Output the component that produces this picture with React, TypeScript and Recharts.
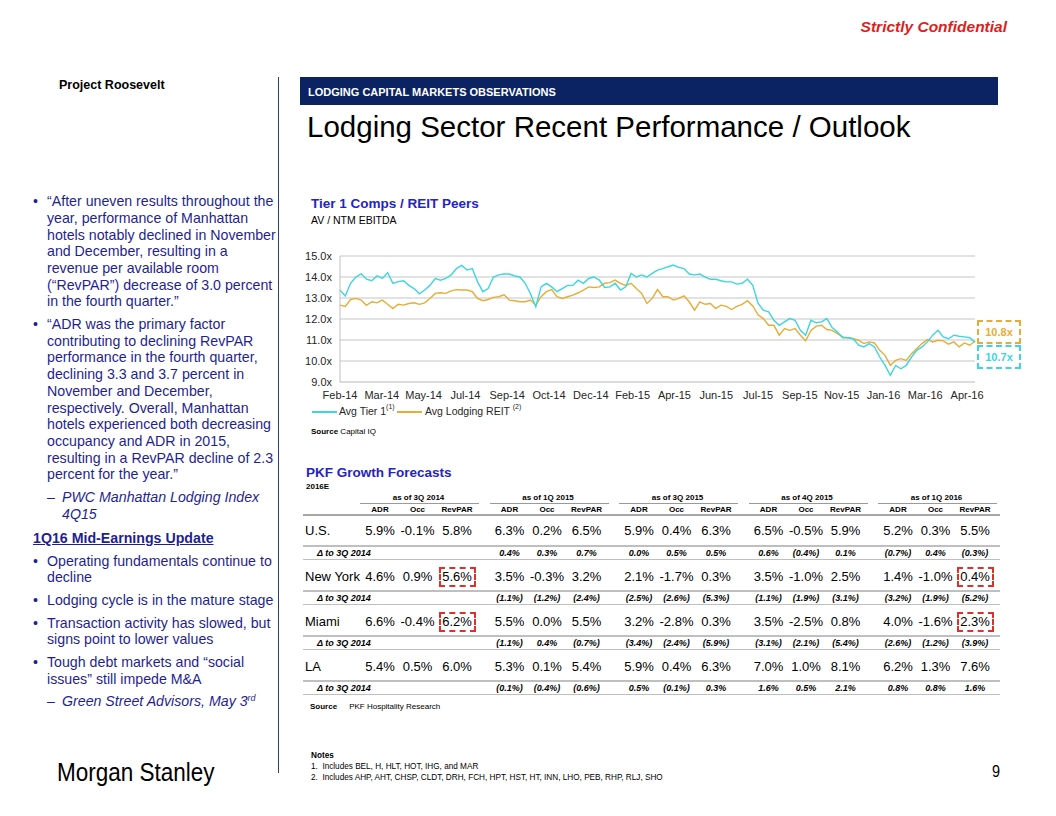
import React from 'react';
import { LineChart, Line, XAxis, YAxis, CartesianGrid } from 'recharts';

// ---------- Chart data ----------
const xLabels = ['Feb-14', 'Mar-14', 'May-14', 'Jul-14', 'Sep-14', 'Oct-14', 'Dec-14', 'Feb-15', 'Apr-15', 'Jun-15', 'Jul-15', 'Sep-15', 'Nov-15', 'Jan-16', 'Mar-16', 'Apr-16'];
const yTicks = [9, 10, 11, 12, 13, 14, 15];

const avgTier1 = [
  13.38, 13.1, 13.7, 14.0, 14.15, 13.9, 13.82, 14.05, 13.93, 14.2,
  13.7, 13.78, 13.82, 13.6, 13.45, 13.2, 13.38, 13.6, 13.93, 13.85,
  13.93, 14.1, 14.4, 14.55, 14.33, 14.4, 13.77, 13.3, 13.45, 14.0,
  14.1, 14.14, 14.14, 14.05, 14.0, 13.7, 13.2, 12.58, 13.53, 13.7,
  13.53, 13.3, 13.45, 13.6, 13.6, 13.85, 13.7, 13.93, 14.0, 13.85,
  13.5, 13.53, 13.7, 13.38, 13.53, 14.17, 14.0, 14.1, 14.0, 14.17,
  14.33, 14.4, 14.49, 14.57, 14.46, 14.4, 14.14, 14.1, 14.14, 14.0,
  13.89, 13.89, 13.82, 13.77, 13.77, 13.66, 13.7, 13.89, 13.6, 12.75,
  12.42, 12.34, 11.94, 11.7, 11.86, 12.02, 11.94, 11.46, 11.23, 11.94,
  11.82, 11.86, 12.02, 11.59, 11.38, 11.11, 11.11, 11.06, 10.75, 10.67,
  10.83, 10.67, 10.19, 9.79, 9.32, 9.79, 9.63, 9.79, 10.19, 10.51,
  10.67, 10.91, 11.23, 11.46, 11.15, 11.06, 11.23, 11.18, 11.15, 11.11,
  10.9,
];

const avgLodgingReit = [
  12.66, 12.6, 12.93, 12.98, 12.9, 12.65, 12.82, 12.77, 12.9, 12.7,
  12.5, 12.7, 12.66, 12.74, 12.77, 12.7, 12.77, 12.98, 13.22, 13.25,
  13.22, 13.34, 13.4, 13.38, 13.38, 13.3, 12.98, 12.87, 12.93, 13.03,
  13.06, 13.15, 12.9, 12.87, 12.82, 12.82, 12.9, 12.66, 13.06, 13.3,
  13.4, 13.06, 12.98, 13.06, 13.14, 13.25, 13.38, 13.53, 13.5, 13.53,
  13.7, 13.73, 13.85, 13.7, 13.6, 13.7, 13.45, 13.22, 12.74, 12.98,
  13.4, 13.06, 13.06, 12.9, 12.98, 13.1, 12.82, 12.42, 12.82, 12.7,
  12.74, 12.5, 12.66, 12.6, 12.45, 12.6, 12.7, 12.87, 12.62, 12.2,
  12.02, 11.7, 11.7, 11.23, 11.54, 11.46, 11.54, 11.23, 10.96, 11.46,
  11.66, 11.7, 11.5, 11.46, 11.3, 11.15, 11.11, 11.06, 10.99, 10.83,
  10.91, 10.86, 10.51, 10.27, 9.79, 10.03, 10.11, 10.03, 10.35, 10.59,
  10.83, 11.02, 10.91, 10.99, 10.96, 10.8, 10.91, 10.67, 10.86, 10.75,
  10.95,
];

const latestLabels = { reit: '10.8x', tier1: '10.7x' };

// ---------- Table data ----------
const groups = ['as of 3Q 2014', 'as of 1Q 2015', 'as of 3Q 2015', 'as of 4Q 2015', 'as of 1Q 2016'];
const metrics = ['ADR', 'Occ', 'RevPAR'];
const markets = ['U.S.', 'New York', 'Miami', 'LA'];
const forecastUS = [5.9, -0.1, 5.8, 6.3, 0.2, 6.5, 5.9, 0.4, 6.3, 6.5, -0.5, 5.9, 5.2, 0.3, 5.5];
const forecastNY = [4.6, 0.9, 5.6, 3.5, -0.3, 3.2, 2.1, -1.7, 0.3, 3.5, -1.0, 2.5, 1.4, -1.0, 0.4];
const forecastMiami = [6.6, -0.4, 6.2, 5.5, 0.0, 5.5, 3.2, -2.8, 0.3, 3.5, -2.5, 0.8, 4.0, -1.6, 2.3];
const forecastLA = [5.4, 0.5, 6.0, 5.3, 0.1, 5.4, 5.9, 0.4, 6.3, 7.0, 1.0, 8.1, 6.2, 1.3, 7.6];
const deltaUS = [0.4, 0.3, 0.7, 0.0, 0.5, 0.5, 0.6, -0.4, 0.1, -0.7, 0.4, -0.3];
const deltaNY = [-1.1, -1.2, -2.4, -2.5, -2.6, -5.3, -1.1, -1.9, -3.1, -3.2, -1.9, -5.2];
const deltaMiami = [-1.1, 0.4, -0.7, -3.4, -2.4, -5.9, -3.1, -2.1, -5.4, -2.6, -1.2, -3.9];
const deltaLA = [-0.1, -0.4, -0.6, 0.5, -0.1, 0.3, 1.6, 0.5, 2.1, 0.8, 0.8, 1.6];
const forecasts = [forecastUS, forecastNY, forecastMiami, forecastLA];
const deltas = [deltaUS, deltaNY, deltaMiami, deltaLA];
const highlighted = [
  { market: 1, group: 0, metric: 2 },
  { market: 2, group: 0, metric: 2 },
  { market: 1, group: 4, metric: 2 },
  { market: 2, group: 4, metric: 2 },
];

// ---------- Text ----------
const bullet1 = [
  '\u201CAfter uneven results throughout the',
  'year, performance of Manhattan',
  'hotels notably declined in November',
  'and December, resulting in a',
  'revenue per available room',
  '(\u201CRevPAR\u201D) decrease of 3.0 percent',
  'in the fourth quarter.\u201D',
];
const bullet2 = [
  '\u201CADR was the primary factor',
  'contributing to declining RevPAR',
  'performance in the fourth quarter,',
  'declining 3.3 and 3.7 percent in',
  'November and December,',
  'respectively. Overall, Manhattan',
  'hotels experienced both decreasing',
  'occupancy and ADR in 2015,',
  'resulting in a RevPAR decline of 2.3',
  'percent for the year.\u201D',
];
const update = [
  ['Operating fundamentals continue to', 'decline'],
  ['Lodging cycle is in the mature stage'],
  ['Transaction activity has slowed, but', 'signs point to lower values'],
  ['Tough debt markets and \u201Csocial', 'issues\u201D still impede M&A'],
];

const FONT = "'Liberation Sans', Arial, Helvetica, sans-serif";
const CYAN = '#3dd5e0';
const GOLD = '#e6ad36';
const TEXT_BLUE = '#1f1f92';
const HEAD_BLUE = '#2424c4';

const N = avgTier1.length;
const chartData = avgTier1.map((v, i) => ({ i, tier1: v, reit: avgLodgingReit[i] }));
const TICK_STEP = 7.9;
const xTicks = xLabels.map((_, k) => k * TICK_STEP);

const fmt = (v: number) => v.toFixed(1) + '%';
const fmtDelta = (v: number) => (v < 0 ? '(' + Math.abs(v).toFixed(1) + '%)' : v.toFixed(1) + '%');

const LINE_H = 16.7;

function Lines({ lines }: { lines: React.ReactNode[] }) {
  return (
    <>
      {lines.map((l, k) => (
        <div key={k} style={{ height: LINE_H, lineHeight: LINE_H + 'px', whiteSpace: 'nowrap' }}>{l}</div>
      ))}
    </>
  );
}

function Bullet({ lines, mt = 6 }: { lines: React.ReactNode[]; mt?: number }) {
  return (
    <div style={{ position: 'relative', paddingLeft: 14, marginTop: mt }}>
      <span style={{ position: 'absolute', left: 0, top: 0, lineHeight: LINE_H + 'px' }}>{'\u2022'}</span>
      <Lines lines={lines} />
    </div>
  );
}

function Dash({ lines, mt = 6 }: { lines: React.ReactNode[]; mt?: number }) {
  return (
    <div style={{ position: 'relative', paddingLeft: 29, marginTop: mt, fontStyle: 'italic' }}>
      <span style={{ position: 'absolute', left: 14, top: 0, lineHeight: LINE_H + 'px', fontStyle: 'normal' }}>{'\u2013'}</span>
      <Lines lines={lines} />
    </div>
  );
}

// table geometry
const ADR0 = 380;
const GROUP_W = 129.5;
const METRIC_OFF = [0, 37.5, 77];
const colX = (g: number, m: number) => ADR0 + g * GROUP_W + METRIC_OFF[m];
const ROW_Y = [531, 577, 622, 667];
const DELTA_Y = [553, 598, 643, 688];

function Centered({ x, y, children, style }: { x: number; y: number; children: React.ReactNode; style?: React.CSSProperties }) {
  return (
    <div style={{ position: 'absolute', left: x - 40, top: y - 8, width: 80, height: 16, lineHeight: '16px', textAlign: 'center', whiteSpace: 'nowrap', ...style }}>
      {children}
    </div>
  );
}

function HLine({ x1, x2, y, w = 1, c = '#bfbfbf' }: { x1: number; x2: number; y: number; w?: number; c?: string }) {
  return <div style={{ position: 'absolute', left: x1, top: y - w / 2, width: x2 - x1, height: w, background: c }} />;
}

export default function App() {
  return (
    <div style={{ position: 'absolute', left: 0, top: 0, width: 1056, height: 816, background: '#fff', fontFamily: FONT, color: '#000', overflow: 'hidden' }}>
      {/* Header */}
      <div style={{ position: 'absolute', right: 49, top: 17, fontSize: 15.5, fontWeight: 700, fontStyle: 'italic', color: '#dc1f1c', lineHeight: '20px' }}>Strictly Confidential</div>
      <div style={{ position: 'absolute', left: 59, top: 77, fontSize: 12.5, fontWeight: 700, lineHeight: '16px' }}>Project Roosevelt</div>
      <div style={{ position: 'absolute', left: 278, top: 77, width: 1, height: 696, background: '#24407e' }} />
      <div style={{ position: 'absolute', left: 300, top: 77, width: 698, height: 28, background: '#0b2363' }}>
        <div style={{ position: 'absolute', left: 8, top: 8, color: '#fff', fontSize: 11, fontWeight: 700, lineHeight: '14px', whiteSpace: 'nowrap' }}>LODGING CAPITAL MARKETS OBSERVATIONS</div>
      </div>
      <div style={{ position: 'absolute', left: 307, top: 109, fontSize: 29.5, lineHeight: '36px', whiteSpace: 'nowrap' }}>Lodging Sector Recent Performance / Outlook</div>

      {/* Left column */}
      <div style={{ position: 'absolute', left: 33, top: 193.3 - 6, width: 245, fontSize: 14.2, color: TEXT_BLUE }}>
        <Bullet lines={bullet1} />
        <Bullet lines={bullet2} />
        <Dash lines={['PWC Manhattan Lodging Index', '4Q15']} />
        <div style={{ marginTop: 7.5, fontWeight: 700, textDecoration: 'underline', height: LINE_H, lineHeight: LINE_H + 'px', whiteSpace: 'nowrap' }}>1Q16 Mid-Earnings Update</div>
        {update.map((l, k) => (
          <Bullet key={k} lines={l} />
        ))}
        <Dash lines={[<span key="g">Green Street Advisors, May 3<sup style={{ fontSize: 9, verticalAlign: 'top', position: 'relative', top: -3 }}>rd</sup></span>]} />
      </div>

      {/* Chart titles */}
      <div style={{ position: 'absolute', left: 311, top: 195, fontSize: 13.5, fontWeight: 700, color: HEAD_BLUE, lineHeight: '18px', whiteSpace: 'nowrap' }}>Tier 1 Comps / REIT Peers</div>
      <div style={{ position: 'absolute', left: 311, top: 213, fontSize: 10.5, lineHeight: '14px', whiteSpace: 'nowrap' }}>AV / NTM EBITDA</div>

      {/* Line chart */}
      <div style={{ position: 'absolute', left: 290, top: 246, width: 700, height: 160 }}>
        <LineChart width={700} height={160} data={chartData} margin={{ top: 10, right: 15, left: 0, bottom: 0 }}>
          <CartesianGrid vertical={false} stroke="#d9d9d9" strokeWidth={1.5} />
          <XAxis
            dataKey="i"
            type="number"
            domain={[0, N - 1]}
            ticks={xTicks}
            interval={0}
            tickFormatter={(v: number) => xLabels[Math.round(v / TICK_STEP)]}
            axisLine={{ stroke: '#d9d9d9', strokeWidth: 1.5 }}
            tickLine={false}
            tickMargin={3}
            height={24}
            tick={{ fontSize: 11, fill: '#262626', fontFamily: FONT }}
          />
          <YAxis
            domain={[9, 15]}
            ticks={yTicks}
            interval={0}
            tickFormatter={(v: number) => v.toFixed(1) + 'x'}
            axisLine={{ stroke: '#bfbfbf', strokeWidth: 1 }}
            tickLine={false}
            width={50}
            tick={{ fontSize: 11, fill: '#262626', fontFamily: FONT }}
          />
          <Line type="linear" dataKey="reit" stroke={GOLD} strokeWidth={1.4} dot={false} isAnimationActive={false} />
          <Line type="linear" dataKey="tier1" stroke={CYAN} strokeWidth={1.4} dot={false} isAnimationActive={false} />
        </LineChart>
      </div>

      {/* Latest value call-outs */}
      <div style={{ position: 'absolute', left: 977, top: 320, width: 40, height: 20, border: `2px dashed ${GOLD}`, color: GOLD, fontSize: 11, fontWeight: 700, lineHeight: '20px', textAlign: 'center' }}>{latestLabels.reit}</div>
      <div style={{ position: 'absolute', left: 977, top: 345, width: 40, height: 20, border: `2px dashed ${CYAN}`, color: CYAN, fontSize: 11, fontWeight: 700, lineHeight: '20px', textAlign: 'center' }}>{latestLabels.tier1}</div>

      {/* Legend */}
      <div style={{ position: 'absolute', left: 312, top: 411, width: 25, height: 2, background: CYAN }} />
      <div style={{ position: 'absolute', left: 339, top: 404, fontSize: 10.5, lineHeight: '14px', whiteSpace: 'nowrap', color: '#262626' }}>
        Avg Tier 1<sup style={{ fontSize: 7, verticalAlign: 'top', position: 'relative', top: -4 }}>(1)</sup>
      </div>
      <div style={{ position: 'absolute', left: 397, top: 411, width: 25, height: 2, background: GOLD }} />
      <div style={{ position: 'absolute', left: 425, top: 404, fontSize: 10.5, lineHeight: '14px', whiteSpace: 'nowrap', color: '#262626' }}>
        Avg Lodging REIT <sup style={{ fontSize: 7, verticalAlign: 'top', position: 'relative', top: -4 }}>(2)</sup>
      </div>
      <div style={{ position: 'absolute', left: 311, top: 426, fontSize: 8, lineHeight: '11px', whiteSpace: 'nowrap' }}>
        <b>Source</b> Capital IQ
      </div>

      {/* Table */}
      <div style={{ position: 'absolute', left: 306, top: 464, fontSize: 13.5, fontWeight: 700, color: HEAD_BLUE, lineHeight: '18px', whiteSpace: 'nowrap' }}>PKF Growth Forecasts</div>
      <div style={{ position: 'absolute', left: 306, top: 481, fontSize: 8, fontWeight: 700, lineHeight: '11px' }}>2016E</div>

      {groups.map((g, gi) => (
        <React.Fragment key={g}>
          <Centered x={(colX(gi, 0) + colX(gi, 2)) / 2} y={498} style={{ fontSize: 8, fontWeight: 700 }}>{g}</Centered>
          <HLine x1={colX(gi, 0) - 20} x2={colX(gi, 2) + 22} y={503.5} w={1} c="#9a9a9a" />
          {metrics.map((m, mi) => (
            <Centered key={m} x={colX(gi, mi)} y={509.5} style={{ fontSize: 8, fontWeight: 700 }}>{m}</Centered>
          ))}
        </React.Fragment>
      ))}
      <HLine x1={303} x2={1000} y={515} w={2} c="#a6a6a6" />

      {markets.map((mk, ri) => (
        <React.Fragment key={mk}>
          <div style={{ position: 'absolute', left: 305, top: ROW_Y[ri] - 9, fontSize: 13, lineHeight: '18px', whiteSpace: 'nowrap' }}>{mk}</div>
          {forecasts[ri].map((v, k) => (
            <Centered key={k} x={colX(Math.floor(k / 3), k % 3)} y={ROW_Y[ri]} style={{ fontSize: 13, top: ROW_Y[ri] - 9, height: 18, lineHeight: '18px' }}>{fmt(v)}</Centered>
          ))}
          <HLine x1={303} x2={1000} y={DELTA_Y[ri] - 7} w={1.5} />
          <div style={{ position: 'absolute', left: 317, top: DELTA_Y[ri] - 6, fontSize: 9, fontWeight: 700, fontStyle: 'italic', lineHeight: '12px', whiteSpace: 'nowrap' }}>{'\u0394'}  to 3Q 2014</div>
          {deltas[ri].map((v, k) => (
            <Centered key={k} x={colX(Math.floor(k / 3) + 1, k % 3)} y={DELTA_Y[ri]} style={{ fontSize: 9, fontWeight: 700, fontStyle: 'italic' }}>{fmtDelta(v)}</Centered>
          ))}
          <HLine x1={303} x2={1000} y={DELTA_Y[ri] + 6.5} w={1.5} />
        </React.Fragment>
      ))}

      {highlighted.map((h, k) => (
        <div key={k} style={{ position: 'absolute', left: colX(h.group, h.metric) - 18, top: ROW_Y[h.market] - 10, width: 37, height: 20, border: '2px dashed #e0302c', boxSizing: 'border-box' }} />
      ))}

      <div style={{ position: 'absolute', left: 310, top: 701, fontSize: 8, lineHeight: '11px', whiteSpace: 'nowrap' }}>
        <b>Source</b>
        <span style={{ marginLeft: 12 }}>PKF Hospitality Research</span>
      </div>

      {/* Footer */}
      <div style={{ position: 'absolute', left: 57, top: 757, fontSize: 25, lineHeight: '30px', whiteSpace: 'nowrap', transform: 'scaleX(0.9)', transformOrigin: 'left center' }}>Morgan Stanley</div>
      <div style={{ position: 'absolute', left: 311, top: 750, fontSize: 8.2, lineHeight: '11px', whiteSpace: 'nowrap' }}>
        <div style={{ fontWeight: 700 }}>Notes</div>
        <div>1.&nbsp;&nbsp;Includes BEL, H, HLT, HOT, IHG, and MAR</div>
        <div>2.&nbsp;&nbsp;Includes AHP, AHT, CHSP, CLDT, DRH, FCH, HPT, HST, HT, INN, LHO, PEB, RHP, RLJ, SHO</div>
      </div>
      <div style={{ position: 'absolute', left: 992, top: 762, fontSize: 17, lineHeight: '20px', transform: 'scaleX(0.85)', transformOrigin: 'left center' }}>9</div>
    </div>
  );
}
